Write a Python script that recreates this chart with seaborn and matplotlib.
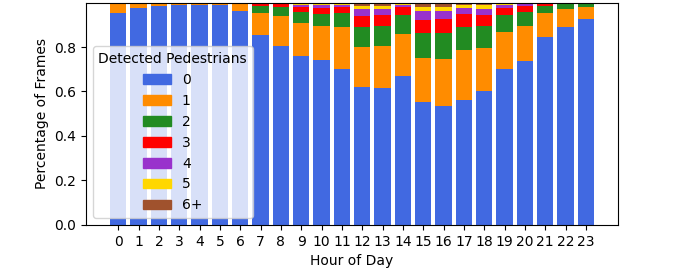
import numpy as np
import pandas as pd
import matplotlib
matplotlib.use("Agg")
import matplotlib.pyplot as plt
import matplotlib.patches as mpatches
import seaborn as sns

hours = list(range(24))
categories = ['0', '1', '2', '3', '4', '5', '6+']
colors = ['royalblue', 'darkorange', 'forestgreen', 'red', 'darkorchid', 'gold', 'sienna']

# fraction of frames per hour, one list per pedestrian count
pct_0 = [0.952, 0.974, 0.983, 0.988, 0.988, 0.988, 0.961, 0.854, 0.803, 0.758, 0.740, 0.701,
         0.618, 0.614, 0.668, 0.551, 0.533, 0.564, 0.600, 0.700, 0.735, 0.844, 0.889, 0.925]
pct_1 = [0.043, 0.024, 0.015, 0.011, 0.011, 0.011, 0.036, 0.098, 0.135, 0.149, 0.154, 0.188,
         0.181, 0.189, 0.189, 0.198, 0.212, 0.221, 0.194, 0.166, 0.158, 0.108, 0.081, 0.054]
pct_2 = [0.004, 0.002, 0.002, 0.001, 0.001, 0.001, 0.003, 0.031, 0.041, 0.049, 0.053, 0.063,
         0.090, 0.090, 0.086, 0.113, 0.117, 0.104, 0.099, 0.077, 0.063, 0.031, 0.022, 0.013]
pct_3 = [0.001, 0.0, 0.0, 0.0, 0.0, 0.0, 0.0, 0.012, 0.013, 0.023, 0.027, 0.027,
         0.049, 0.050, 0.036, 0.058, 0.063, 0.058, 0.050, 0.031, 0.027, 0.009, 0.005, 0.006]
pct_4 = [0.0, 0.0, 0.0, 0.0, 0.0, 0.0, 0.0, 0.003, 0.005, 0.010, 0.014, 0.012,
         0.032, 0.027, 0.012, 0.041, 0.036, 0.027, 0.027, 0.014, 0.009, 0.005, 0.002, 0.001]
pct_5 = [0.0, 0.0, 0.0, 0.0, 0.0, 0.0, 0.0, 0.001, 0.002, 0.004, 0.008, 0.006,
         0.013, 0.013, 0.005, 0.018, 0.018, 0.014, 0.018, 0.006, 0.005, 0.002, 0.001, 0.001]
pct_6 = [0.0, 0.0, 0.0, 0.0, 0.0, 0.0, 0.0, 0.001, 0.001, 0.007, 0.004, 0.003,
         0.017, 0.017, 0.004, 0.021, 0.021, 0.012, 0.012, 0.006, 0.003, 0.001, 0.0, 0.0]

series = [pct_0, pct_1, pct_2, pct_3, pct_4, pct_5, pct_6]

df = pd.DataFrame({'hour': hours})
cum = np.zeros(24)
for cat, vals in zip(categories, series):
    cum = cum + np.array(vals)
    df['cum_' + cat] = cum

fig, ax = plt.subplots(figsize=(6.87, 2.76), dpi=100)
plt.subplots_adjust(left=0.125, right=0.9, top=0.99, bottom=0.185)

# stacked bars: draw cumulative totals from the top layer down
for cat, col in reversed(list(zip(categories, colors))):
    sns.barplot(data=df, x='hour', y='cum_' + cat, color=col, errorbar=None,
                width=0.8, linewidth=0, saturation=1, ax=ax)

ax.set_xlim(-1.59, 24.59)
ax.set_ylim(0, 0.999)
ax.set_xlabel('Hour of Day')
ax.set_ylabel('Percentage of Frames')

handles = [mpatches.Patch(color=c, label=l) for l, c in zip(categories, colors)]
ax.legend(handles=handles, title='Detected Pedestrians', loc='lower left')

plt.savefig('out.png', dpi=100)
